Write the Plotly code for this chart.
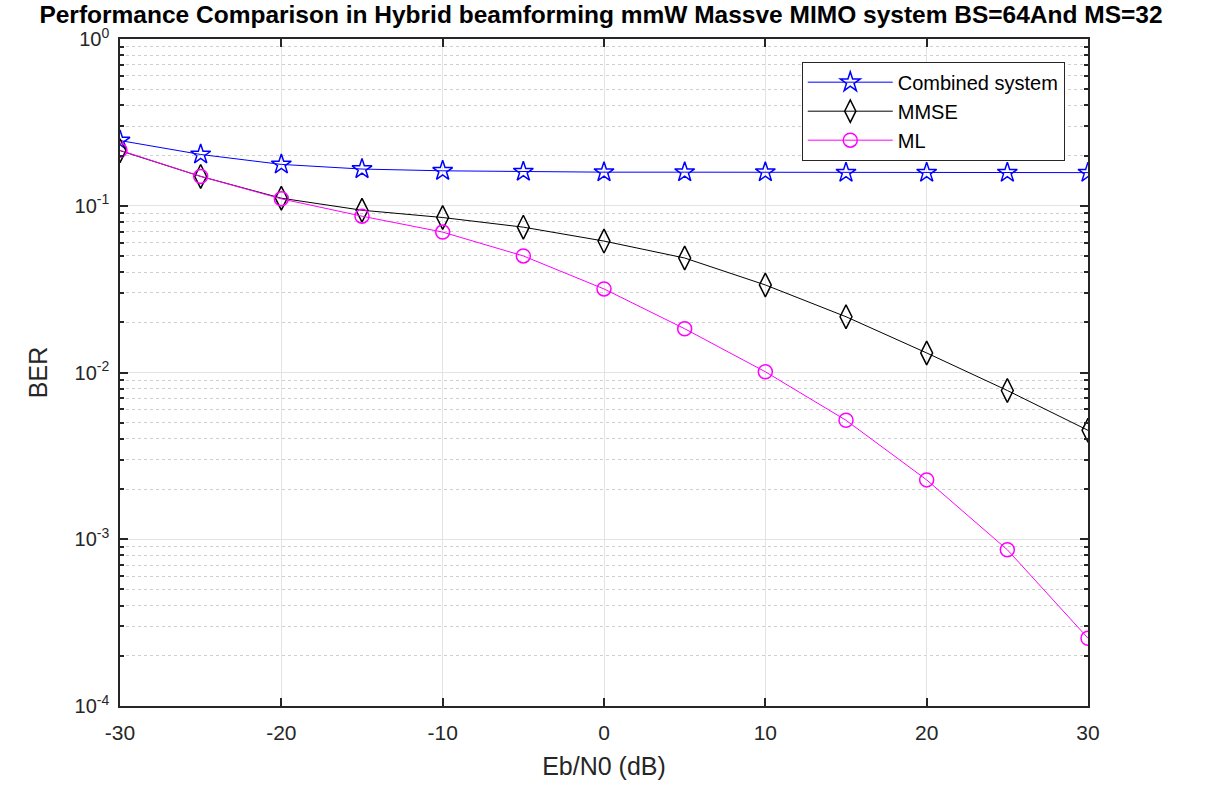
import plotly.graph_objects as go

snr_db = [-30, -25, -20, -15, -10, -5, 0, 5, 10, 15, 20, 25, 30]
ber_combined = [0.246, 0.203, 0.177, 0.166, 0.162, 0.160, 0.159, 0.159, 0.159, 0.158, 0.158, 0.158, 0.158]
ber_mmse = [0.214, 0.150, 0.111, 0.094, 0.085, 0.0744, 0.0614, 0.0486, 0.0335, 0.0216, 0.0131, 0.0078, 0.0045]
ber_ml = [0.215, 0.150, 0.110, 0.0866, 0.0695, 0.0500, 0.0317, 0.0183, 0.0101, 0.00517, 0.00227, 0.000865, 0.000255]

x_ticks = [-30, -20, -10, 0, 10, 20, 30]
y_ticks = [1e-4, 1e-3, 1e-2, 1e-1, 1]
y_ticktext = ["10<sup>-4</sup>", "10<sup>-3</sup>", "10<sup>-2</sup>", "10<sup>-1</sup>", "10<sup>0</sup>"]

FONT = "Liberation Sans, Arial, Helvetica, sans-serif"

fig = go.Figure()
fig.add_trace(go.Scatter(x=snr_db, y=ber_combined, mode="lines+markers", name="Combined system",
                         line=dict(color="#0000ff", width=1),
                         marker=dict(symbol="star-open", size=15, color="#0000ff", line=dict(width=1.5))))
fig.add_trace(go.Scatter(x=snr_db, y=ber_mmse, mode="lines+markers", name="MMSE",
                         line=dict(color="#000000", width=1),
                         marker=dict(symbol="diamond-tall-open", size=17, color="#000000", line=dict(width=1.5))))
fig.add_trace(go.Scatter(x=snr_db, y=ber_ml, mode="lines+markers", name="ML",
                         line=dict(color="#ff00ff", width=1),
                         marker=dict(symbol="circle-open", size=14, color="#ff00ff", line=dict(width=1.5))))

fig.update_layout(
    width=1219, height=788,
    margin=dict(l=120, r=131, t=39, b=79),
    paper_bgcolor="white", plot_bgcolor="white",
    font=dict(family=FONT, color="#262626", size=20),
    title=dict(text="<b>Performance Comparison in Hybrid beamforming mmW Massve MIMO system BS=64And MS=32</b>",
               x=601/1219, xanchor="center", y=1-14/788, yanchor="middle",
               font=dict(size=24.5, color="#000000", family=FONT)),
    showlegend=True,
    legend=dict(x=0.976, xanchor="right", y=0.966, yanchor="top",
                bgcolor="white", bordercolor="#262626", borderwidth=1,
                font=dict(size=20, color="#000000"), tracegroupgap=0,
                itemwidth=85),
)

fig.update_xaxes(
    range=[-30, 30], tickvals=x_ticks, ticktext=[str(v) for v in x_ticks],
    showgrid=True, gridcolor="#e3e3e3", gridwidth=1,
    showline=True, linecolor="#262626", linewidth=1.5, mirror="ticks",
    ticks="inside", ticklen=8, tickcolor="#262626", tickwidth=1.5,
    ticklabelstandoff=7,
    zeroline=False,
    title=dict(text="Eb/N0 (dB)", font=dict(size=25, color="#262626"), standoff=15),
    tickfont=dict(size=21, color="#262626"),
)
fig.update_yaxes(
    type="log", range=[-4, 0], tickvals=y_ticks, ticktext=y_ticktext,
    showgrid=True, gridcolor="#e3e3e3", gridwidth=1,
    showline=True, linecolor="#262626", linewidth=1.5, mirror="ticks",
    ticks="inside", ticklen=8, tickcolor="#262626", tickwidth=1.5,
    ticklabelstandoff=5,
    zeroline=False,
    minor=dict(dtick="D1", showgrid=True, gridcolor="#cfcfcf", griddash="dot", gridwidth=1,
               ticks="inside", ticklen=4, tickcolor="#262626"),
    title=dict(text="BER", font=dict(size=25, color="#262626"), standoff=20),
    tickfont=dict(size=20, color="#262626"),
)

fig.write_html("out.html")
